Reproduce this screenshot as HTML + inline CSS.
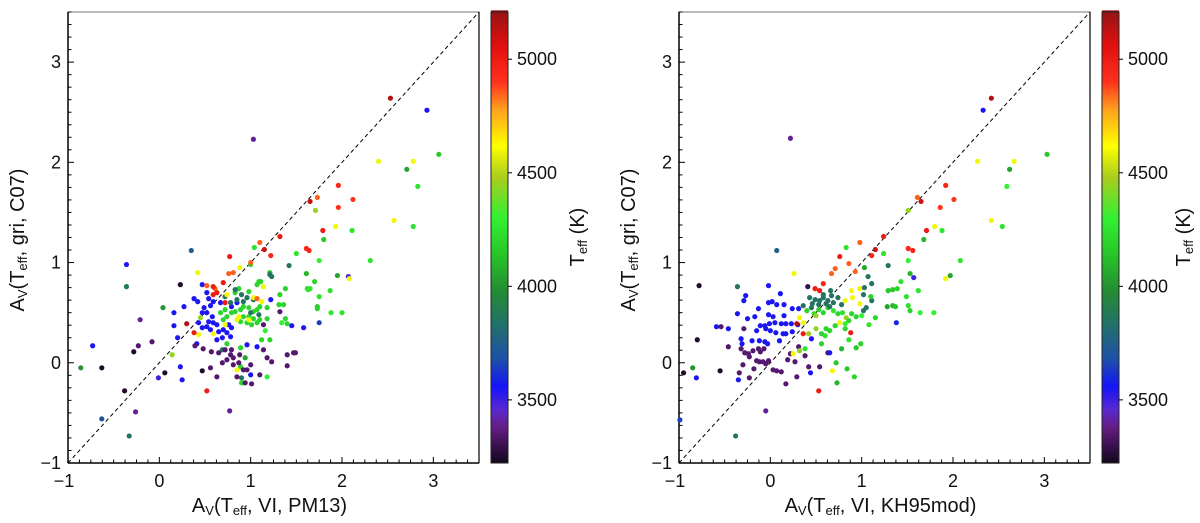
<!DOCTYPE html>
<html><head><meta charset="utf-8">
<style>
html,body{margin:0;padding:0;background:#fff;}
svg{display:block;font-family:"Liberation Sans",sans-serif;}
</style></head>
<body>
<svg id="fig" width="1200" height="523" viewBox="0 0 1200 523" xmlns="http://www.w3.org/2000/svg"></svg>
<script>
// ---- data: left panel (A_V PM13 vs A_V C07) ----
const leftX = [2.53,2.93,1.03,3.06,2.40,2.78,2.71,1.96,2.83,1.65,1.73,2.12,1.96,1.71,2.57,2.78,1.93,2.11,1.79,1.80,1.32,1.10,1.04,1.15,1.61,1.64,1.50,0.35,0.77,1.22,1.75,2.31,1.00,1.00,1.42,-0.36,0.88,1.21,1.23,1.61,1.95,2.07,2.08,1.09,1.70,-0.36,1.63,1.65,1.87,1.75,1.73,1.73,1.88,2.00,1.22,1.75,-0.21,-0.08,-0.23,-0.73,-0.28,-0.86,-0.63,-0.38,-0.26,-0.63,-0.33,-0.01,0.06,0.77,0.91,1.01,1.49,
0.47,0.52,0.38,0.42,0.54,0.59,0.56,0.49,0.47,0.52,0.58,0.54,0.59,0.63,0.52,0.47,0.56,0.65,0.70,0.74,0.69,0.63,0.78,0.76,0.79,0.67,0.79,0.85,0.16,0.16,0.20,0.23,0.25,1.45,1.58,1.07,1.00,0.96,0.41,0.43,0.27,
0.87,0.83,0.98,1.07,1.11,1.32,1.38,1.62,0.72,0.79,0.83,0.89,0.92,0.98,1.03,1.07,1.10,1.18,0.92,0.98,1.03,1.10,1.18,1.36,1.34,1.38,1.40,0.70,0.74,0.89,0.96,1.01,1.07,0.74,0.89,0.94,0.89,0.90,1.18,1.21,1.16,1.12,0.67,0.04,1.31,
0.83,0.90,0.96,1.03,0.92,0.85,0.78,0.72,1.00,1.09,1.21,0.69,0.90,
0.42,0.74,1.14,0.87,0.85,1.03,0.72,0.59,0.85,1.12,0.43,0.98,
0.76,0.81,0.52,0.61,1.07,
0.70,0.59,0.59,0.72,0.38,0.52,0.63,0.30,
0.39,0.48,0.57,0.65,0.72,0.78,0.81,0.74,0.69,0.81,0.87,0.92,0.96,1.00,1.10,0.63,0.56,0.85,0.94,1.14,1.18,1.23,1.40,1.47,1.40,1.32,1.14,0.79,0.88,
0.23,0.47,0.14,0.45];
const leftY = [2.64,2.52,2.23,2.08,2.01,2.01,1.93,1.77,1.76,1.61,1.65,1.63,1.55,1.52,1.42,1.36,1.36,1.32,1.32,1.23,1.26,1.20,1.15,1.13,1.14,1.12,1.09,1.12,1.06,1.07,1.02,1.02,0.98,1.00,0.97,0.98,0.95,0.90,0.86,0.89,0.87,0.86,0.84,0.81,0.81,0.76,0.73,0.74,0.72,0.66,0.56,0.54,0.50,0.50,0.63,0.40,0.43,0.21,0.17,0.17,0.11,-0.05,-0.05,-0.28,-0.49,-0.56,-0.73,-0.15,-0.10,-0.48,-0.20,-0.21,0.10,
0.78,0.70,0.64,0.61,0.64,0.61,0.57,0.55,0.50,0.50,0.46,0.41,0.40,0.38,0.36,0.35,0.33,0.31,0.33,0.30,0.25,0.23,0.26,0.38,0.35,0.60,0.56,0.60,0.50,0.37,0.25,-0.04,-0.17,0.37,0.35,0.16,-0.12,0.18,0.19,0.40,0.56,
0.74,0.70,0.71,0.78,0.81,0.68,0.74,0.74,0.53,0.50,0.51,0.53,0.56,0.55,0.51,0.53,0.56,0.55,0.46,0.46,0.44,0.43,0.44,0.58,0.40,0.44,0.39,0.43,0.46,0.41,0.40,0.38,0.40,0.19,0.15,0.05,-0.04,-0.20,-0.14,0.23,0.32,0.23,0.50,0.55,0.58,
0.73,0.68,0.65,0.63,0.61,0.63,0.60,0.66,0.50,0.48,0.88,0.13,-0.15,
0.90,0.68,0.76,0.46,0.43,0.65,0.38,0.29,-0.07,0.61,0.28,0.43,
0.89,0.90,0.77,0.74,0.64,
0.80,0.76,0.68,0.60,0.30,-0.28,0.70,0.39,
0.17,0.14,0.11,0.10,0.13,0.08,0.05,0.03,0.00,-0.02,0.00,-0.07,-0.07,-0.02,-0.12,-0.14,-0.05,-0.14,-0.20,0.13,0.05,0.01,0.08,0.10,-0.03,0.51,0.38,0.13,0.08,
0.78,-0.08,0.08,0.45];
const leftT = [5150,3550,3400,4150,4600,4600,4050,4950,4250,5100,4850,4900,4900,4450,4600,4250,4600,4250,5000,4150,5000,4850,4250,5100,4950,4950,4250,3750,5000,4950,4300,4250,4200,4850,3850,3550,4600,4150,3850,4100,4050,3500,4600,4200,4200,3900,4300,4250,4250,4250,4150,4200,4250,4250,3550,3650,3400,3350,3350,3550,3250,4000,3250,3250,3400,3700,3850,3500,3250,3400,4050,3350,3350,
3550,3550,3550,3550,3550,3550,3550,3550,3550,3550,3550,3550,3550,3550,3550,3550,3550,3550,3550,3550,3550,3550,3550,3550,3550,3550,3550,3550,3550,3550,3550,3550,3550,3550,3550,3550,3550,3550,3550,3550,3550,
4200,4200,4200,4200,4200,4200,4200,4250,4200,4200,4200,4200,4200,4200,4200,4200,4200,4200,4200,4200,4200,4200,4200,4200,4300,4200,4200,4200,4200,4200,4200,4200,4200,4200,4200,4050,4200,4200,4300,4200,4300,4200,4200,4000,4200,
3850,3850,3850,3850,3850,3850,3850,3850,3850,3850,3850,3850,3850,
4600,4600,4600,4600,4600,4600,4600,4600,4600,4600,4600,4600,
4850,4850,4850,4850,4850,
5000,5000,5000,5000,5000,5000,5000,5150,
3350,3350,3350,3350,3350,3350,3350,3350,3350,3350,3350,3350,3350,3350,3350,3350,3350,3350,3350,3350,3350,3350,3350,3350,3350,3350,3350,3350,3350,
3250,3250,4450,4450];
// ---- data: right panel (A_V KH95mod vs A_V C07) ----
const rightX = [2.42,2.33,0.22,3.03,2.27,2.67,2.62,2.59,1.92,1.61,1.65,2.01,1.86,1.51,2.42,2.54,1.80,1.88,1.71,1.68,1.24,0.98,0.83,1.15,1.51,1.56,1.24,0.07,0.76,1.11,1.51,2.08,1.03,1.29,0.86,0.71,0.67,0.93,0.26,1.07,1.53,1.57,1.97,1.92,1.11,1.43,
-0.27,0.11,-0.29,-0.78,-0.36,-0.02,0.41,0.49,0.54,0.58,0.66,0.98,1.03,1.29,1.34,1.39,1.62,1.49,1.28,1.34,1.37,1.51,1.53,1.64,1.79,1.38,1.15,1.08,
-0.13,-0.02,0.02,0.07,0.15,0.24,0.31,-0.02,0.03,0.15,-0.36,-0.25,-0.17,-0.11,-0.06,-0.01,0.05,0.12,0.17,0.23,0.30,-0.15,-0.05,0.00,0.06,0.14,-0.46,-0.59,-0.32,-0.20,-0.12,-0.06,-0.03,-0.31,0.10,0.17,0.24,
-0.54,-0.29,-0.46,-0.32,-0.28,-0.24,-0.19,-0.13,-0.11,-0.07,-0.23,-0.15,-0.12,-0.08,-0.05,-0.02,-0.30,-0.34,-0.23,-0.18,0.03,0.07,0.12,0.17,0.22,0.27,0.29,0.19,0.38,0.42,0.54,0.63,0.31,
-0.95,-0.80,-0.55,
-0.85,-0.81,-0.99,-0.38,-0.05,-0.35,0.44,0.53,0.68,0.73,0.84,0.92,0.72,0.78,0.94,0.99,0.86,0.65,
0.32,0.36,0.40,0.45,0.48,0.50,0.53,0.58,0.63,0.69,0.74,0.79,0.83,0.89,0.94,1.00,0.50,0.56,0.60,0.65,0.71,0.76,0.82,0.86,0.42,0.45,0.36,0.29,0.61,0.56,0.38,0.32,0.25,0.88,0.82,
0.36,0.46,0.54,0.58,0.63,0.69,0.78,0.58,0.67,0.74,1.02,1.02,1.05,1.11,0.43,0.49,0.53,0.61,0.65,
0.90,0.98,0.82,0.89,1.10];
const rightY = [2.64,2.52,2.24,2.08,2.01,2.01,1.93,1.76,1.77,1.65,1.61,1.63,1.55,1.52,1.42,1.36,1.36,1.32,1.32,1.23,1.26,1.20,1.15,1.13,1.14,1.12,1.09,1.12,1.06,1.07,1.02,1.02,0.95,0.97,0.99,0.94,0.89,0.91,0.89,0.86,0.89,0.85,0.87,0.84,0.79,0.81,
0.67,0.69,0.62,0.77,0.76,0.77,0.76,0.74,0.72,0.79,0.72,0.74,0.75,0.72,0.73,0.74,0.72,0.66,0.56,0.57,0.56,0.57,0.52,0.50,0.50,0.40,0.45,0.38,
0.54,0.60,0.61,0.58,0.58,0.54,0.54,0.48,0.46,0.47,0.49,0.44,0.46,0.37,0.37,0.39,0.40,0.39,0.39,0.39,0.38,0.32,0.34,0.32,0.30,0.29,0.34,0.36,0.24,0.22,0.22,0.21,0.19,0.19,0.22,0.29,0.31,
0.36,0.34,0.16,0.14,0.10,0.09,0.12,0.14,0.11,0.14,0.06,0.02,0.01,0.01,-0.01,0.02,-0.02,-0.10,-0.15,-0.06,-0.07,-0.08,-0.09,-0.21,0.09,0.01,-0.14,0.03,0.07,-0.04,-0.04,0.10,0.16,
-0.10,0.23,-0.08,
-0.05,-0.15,-0.57,-0.73,-0.48,-0.17,-0.10,-0.28,-0.08,-0.20,-0.06,-0.14,0.00,0.14,0.15,0.19,0.23,0.10,
0.45,0.40,0.52,0.55,0.49,0.47,0.53,0.50,0.55,0.52,0.49,0.50,0.45,0.49,0.46,0.47,0.34,0.29,0.27,0.32,0.37,0.40,0.39,0.42,0.29,0.24,0.29,0.39,0.34,0.19,0.14,0.12,0.09,0.30,0.34,
0.57,0.59,0.62,0.65,0.62,0.60,0.58,0.68,0.67,0.65,0.68,0.52,0.55,0.62,0.65,0.63,0.58,0.59,0.56,
0.65,0.59,0.62,0.72,0.66];
const rightT = [5150,3550,3400,4150,4600,4600,4050,4300,4950,4850,5100,4900,4900,4450,4600,4250,4600,4250,5000,4100,5000,4850,4250,5100,4950,4950,4250,3750,5000,4950,4300,4250,4050,3850,4850,4850,4850,4850,4600,3850,4100,3500,4050,4600,3850,4250,
3550,3550,3550,3250,3850,3550,3300,5000,5000,4950,3850,4600,3850,4150,4150,4200,4250,4250,4050,4100,4150,4250,4200,4300,4300,3600,4200,4250,
3550,3550,3550,3550,3550,3550,3550,3550,3550,3550,3550,3550,3550,3550,3550,3550,3550,3550,3550,3550,3550,3550,3550,3550,3550,3550,3550,3550,3550,3550,3550,3550,3550,3550,3550,3550,3550,
3350,3350,3350,3350,3350,3350,3350,3350,3350,3350,3350,3350,3350,3350,3350,3350,3350,3350,3350,3350,3350,3350,3350,3350,3350,3350,3350,3350,3350,3350,3350,3350,3350,
3250,3250,3250,
4000,3550,3650,3850,3400,3550,3550,5000,4600,4100,4150,4200,4150,4100,4150,4200,4250,3550,
4600,4600,4200,3850,4200,4450,4200,4200,4200,4250,4200,4250,4450,4200,4200,4300,4450,4200,4250,4200,4200,4600,4300,4200,4450,3550,5000,5150,4200,4200,4250,4450,4600,5000,4200,
3850,3850,3850,3850,3850,3850,3850,3850,3850,3850,3850,3850,3850,3850,3850,3850,3850,3850,3850,
4600,4600,4600,4600,4200];
const xTickLabels = ["\u22121","0","1","2","3"];
const yTickLabels = ["\u22121","0","1","2","3"];
const xTickVals = [-1,0,1,2,3];
const yTickVals = [-1,0,1,2,3];
const cbTickVals = [3500,4000,4500,5000];

const NS = "http://www.w3.org/2000/svg";
const svg = document.getElementById('fig');
function mk(tag, attrs, parent){ const e=document.createElementNS(NS,tag); for(const k in attrs) e.setAttribute(k,attrs[k]); (parent||svg).appendChild(e); return e; }

const cmStops = [[3220,[16,8,24]],[3300,[58,16,80]],[3380,[100,30,130]],[3460,[90,40,210]],[3560,[20,20,245]],[3680,[30,80,170]],[3820,[35,110,110]],[3980,[35,140,50]],[4150,[40,200,40]],[4300,[50,240,50]],[4480,[170,205,30]],[4620,[255,255,0]],[4780,[255,160,30]],[4900,[255,50,30]],[5060,[225,15,15]],[5210,[150,20,20]]];
function cmap(t){
  if(t<=cmStops[0][0]) return 'rgb('+cmStops[0][1].join(',')+')';
  for(let i=1;i<cmStops.length;i++){
    if(t<=cmStops[i][0]){
      const a=cmStops[i-1], b=cmStops[i], f=(t-a[0])/(b[0]-a[0]);
      return 'rgb('+a[1].map((v,j)=>Math.round(v+(b[1][j]-v)*f)).join(',')+')';
    }
  }
  return 'rgb('+cmStops[cmStops.length-1][1].join(',')+')';
}

const TMIN=3222, TMAX=5208;
function drawPanel(ox, xs, ys, ts, xlabel, key, cbLabelX){
  const L=ox+68, R=ox+479, T=12, B=463;
  const sx=v=>L+(v+1)/4.5*(R-L);
  const sy=v=>B-(v+1)/4.5*(B-T);
  const g=mk('g',{});
  
  
  const fr=mk('rect',{x:L,y:T,width:R-L,height:B-T,fill:'none',stroke:'#777','stroke-width':1},g);
   
  mk('line',{x1:L,y1:T,x2:L,y2:B,stroke:'#000','stroke-width':1.5},g);
  mk('line',{x1:L,y1:B,x2:R,y2:B,stroke:'#000','stroke-width':1.5},g);
  mk('line',{x1:R,y1:T,x2:R,y2:B,stroke:'#000','stroke-width':1.2},g);
  for(let v=-1; v<=3.5001; v+=0.125){
    const major=Math.abs(v-Math.round(v))<1e-6;
    const len=major?6:3.5;
    mk('line',{x1:sx(v),y1:B,x2:sx(v),y2:B-len,stroke:'#000','stroke-width':1},g);
    mk('line',{x1:L,y1:sy(v),x2:L+len,y2:sy(v),stroke:'#000','stroke-width':1},g);
  }
  xTickVals.forEach((v,i)=>{
    const t=mk('text',{x:sx(v)+(v<0?-4:0),y:B+24,'text-anchor':'middle','font-size':18,fill:'#111'},g);
    t.textContent=xTickLabels[i];
     
  });
  yTickVals.forEach((v,i)=>{
    const t=mk('text',{x:L-7,y:sy(v)+6,'text-anchor':'end','font-size':18,fill:'#111'},g);
    t.textContent=yTickLabels[i];
     
  });
  const d=mk('line',{x1:sx(-1),y1:sy(-1),x2:sx(3.5),y2:sy(3.5),stroke:'#000','stroke-width':1,'stroke-dasharray':'4,3'},g);
   
  for(let i=0;i<xs.length;i++){
    const c=mk('circle',{cx:sx(xs[i]),cy:sy(ys[i]),r:2.6,fill:cmap(ts[i])},g);
    
    
  }
  const xl=mk('text',{x:(L+R)/2-4,y:512,'text-anchor':'middle','font-size':20,fill:'#111'},g);
  xl.innerHTML='A<tspan font-size="13" dy="3">V</tspan><tspan dy="-3">(T</tspan><tspan font-size="13" dy="3">eff</tspan><tspan dy="-3">, VI, '+xlabel+')</tspan>';
   
  const yl=mk('text',{x:0,y:0,'text-anchor':'middle','font-size':20,fill:'#111',transform:'translate('+(ox+24)+',240) rotate(-90)'},g);
  yl.innerHTML='A<tspan font-size="13" dy="3">V</tspan><tspan dy="-3">(T</tspan><tspan font-size="13" dy="3">eff</tspan><tspan dy="-3">, gri, C07)</tspan>';
   
  const cx0=ox+491, cw=17;
  const cy=t=>B-(t-TMIN)/(TMAX-TMIN)*(B-T);
  const cbg=mk('g',{},g);
   
  for(let t=TMIN;t<TMAX;t+=12){
    mk('rect',{x:cx0,y:cy(t+12)-0.3,width:cw,height:(B-T)*12/(TMAX-TMIN)+0.6,fill:cmap(t+6)},cbg);
  }
  mk('rect',{x:cx0,y:T,width:cw,height:B-T,fill:'none',stroke:'#222','stroke-width':1},cbg);
  cbTickVals.forEach(v=>{
    mk('line',{x1:cx0+cw,y1:cy(v),x2:cx0+cw+4,y2:cy(v),stroke:'#000','stroke-width':1},cbg);
    const t=mk('text',{x:cx0+cw+9,y:cy(v)+6,'font-size':18,fill:'#111'},cbg);
    t.textContent=v;
     
  });
  const cl=mk('text',{x:0,y:0,'text-anchor':'middle','font-size':20,fill:'#111',transform:'translate('+cbLabelX+',237) rotate(-90)'},cbg);
  cl.innerHTML='T<tspan font-size="13" dy="3">eff</tspan><tspan dy="-3"> (K)</tspan>';
   
}
drawPanel(0, leftX, leftY, leftT, 'PM13', 'left', 584);
drawPanel(611, rightX, rightY, rightT, 'KH95mod', 'right', 1190);
</script>
</body></html>
